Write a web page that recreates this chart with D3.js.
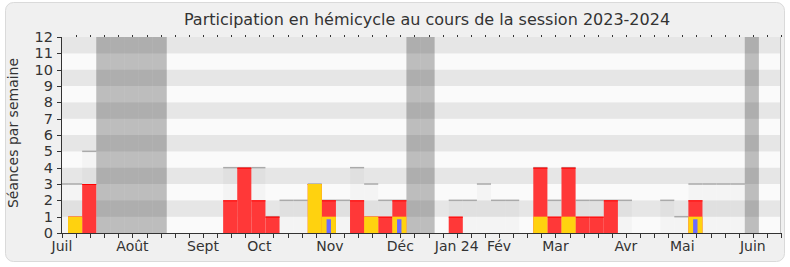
<!DOCTYPE html>
<html>
<head>
<meta charset="utf-8">
<script src="https://cdn.jsdelivr.net/npm/d3@7"></script>
<style>
  body { margin: 0; background: #fff; }
  text { font-family: "DejaVu Sans", sans-serif; fill: #333; }
</style>
</head>
<body>
<svg width="790" height="267"></svg>
<script>
var width = 790;
var height = 267;

// weekly values, week 0 = first week of July 2023
var weeks = d3.range(52);
var seances   = [3,3,5,0,0,0,0,0,0,0,0,0,4,4,4,1,2,2,3,2,2,4,3,2,2,0,0,0,2,2,3,2,2,0,4,2,4,2,2,2,2,0,0,2,1,3,3,3,3,0,0,0];
var presences = [0,1,3,0,0,0,0,0,0,0,0,0,2,4,2,1,0,0,3,2,0,2,1,1,2,0,0,0,1,0,0,0,0,0,4,1,4,1,1,2,0,0,0,0,0,2,0,0,0,0,0,0];
var interventions = [0,1,0,0,0,0,0,0,0,0,0,0,0,0,0,0,0,0,3,1,0,0,1,0,1,0,0,0,0,0,0,0,0,0,1,0,1,0,0,0,0,0,0,0,0,1,0,0,0,0,0,0];
var questions = [0,0,0,0,0,0,0,0,0,0,0,0,0,0,0,0,0,0,0,1,0,0,0,0,1,0,0,0,0,0,0,0,0,0,0,0,0,0,0,0,0,0,0,0,0,1,0,0,0,0,0,0];
var vacances = [3,4,5,6,7,25,26,49];

var monthWeeks  = [0,5,10,14,19,24,28,31,35,40,44,49];
var monthLabels = ["Juil","Août","Sept","Oct","Nov","Déc","Jan 24","Fév","Mar","Avr","Mai","Juin"];
var yTicks = d3.range(0, 13);

var title = "Participation en hémicycle au cours de la session 2023-2024";
var yTitle = "Séances par semaine";

//----------------------------------------------------------------------
// scales
//----------------------------------------------------------------------
var plotLeft = 62, plotRight = 780, plotTop = 37, plotBottom = 233;

var x = d3.scaleLinear().domain([0, 51]).range([62, 781]);
var y = d3.scaleLinear().domain([0, 12]).range([plotBottom, plotTop]);
var step = x(1) - x(0);
var barLeft = function(i) { return x(i - 0.57); };

var svg = d3.select("svg");

// frame
svg.append("rect")
    .attr("x", 5.5).attr("y", 2.5)
    .attr("width", 779).attr("height", 259)
    .attr("rx", 8)
    .attr("fill", "#f0f0f0")
    .attr("stroke", "#dadada");

svg.append("defs").append("clipPath").attr("id", "plot")
  .append("rect")
    .attr("x", plotLeft).attr("y", plotTop)
    .attr("width", plotRight - plotLeft).attr("height", plotBottom - plotTop);

var plot = svg.append("g").attr("clip-path", "url(#plot)");

// background stripes
plot.selectAll("rect.stripe")
    .data(d3.range(12))
    .enter().append("rect")
    .attr("class", "stripe")
    .attr("x", plotLeft)
    .attr("y", d => y(d + 1))
    .attr("width", plotRight - plotLeft)
    .attr("height", d => y(d) - y(d + 1))
    .attr("fill", d => d % 2 ? "#e6e6e6" : "#fafafa");

// total sessions per week
plot.selectAll("rect.total")
    .data(weeks.filter(i => seances[i] > 0))
    .enter().append("rect")
    .attr("x", barLeft)
    .attr("y", i => y(seances[i]))
    .attr("width", step)
    .attr("height", i => y(0) - y(seances[i]))
    .attr("fill", "rgba(0,0,0,0.025)");

plot.selectAll("line.total")
    .data(weeks.filter(i => seances[i] > 0))
    .enter().append("line")
    .attr("x1", barLeft)
    .attr("x2", i => barLeft(i) + step)
    .attr("y1", i => y(seances[i]))
    .attr("y2", i => y(seances[i]))
    .attr("stroke", "#aaa")
    .attr("stroke-width", 1.5);

// holidays
plot.selectAll("rect.vac")
    .data(vacances)
    .enter().append("rect")
    .attr("x", barLeft)
    .attr("y", plotTop)
    .attr("width", step)
    .attr("height", plotBottom - plotTop)
    .attr("fill", "rgba(0,0,0,0.245)");

// presence
plot.selectAll("rect.pres")
    .data(weeks.filter(i => presences[i] > 0))
    .enter().append("rect")
    .attr("x", barLeft)
    .attr("y", i => y(presences[i]))
    .attr("width", step)
    .attr("height", i => y(0) - y(presences[i]))
    .attr("fill", "#ff3838");

plot.selectAll("line.pres")
    .data(weeks.filter(i => presences[i] > 0))
    .enter().append("line")
    .attr("x1", barLeft)
    .attr("x2", i => barLeft(i) + step)
    .attr("y1", i => y(presences[i]) + 0.5)
    .attr("y2", i => y(presences[i]) + 0.5)
    .attr("stroke", "#ff0000")
    .attr("stroke-width", 1);

// interventions
plot.selectAll("rect.inter")
    .data(weeks.filter(i => interventions[i] > 0))
    .enter().append("rect")
    .attr("x", barLeft)
    .attr("y", i => y(interventions[i]))
    .attr("width", step)
    .attr("height", i => y(0) - y(interventions[i]))
    .attr("fill", "#ffd20f");

// questions
plot.selectAll("rect.quest")
    .data(weeks.filter(i => questions[i] > 0))
    .enter().append("rect")
    .attr("x", i => x(i) - 3.3)
    .attr("y", i => y(questions[i]) + 2.6)
    .attr("width", 4.4)
    .attr("height", i => y(0) - y(questions[i]) - 2.6)
    .attr("fill", "#6b6bff");

// right border
svg.append("line")
    .attr("x1", plotRight + 0.5).attr("x2", plotRight + 0.5)
    .attr("y1", plotTop).attr("y2", plotBottom)
    .attr("stroke", "#c4c4c4");

//----------------------------------------------------------------------
// axes
//----------------------------------------------------------------------
var axisColor = "#333";

// top small ticks
svg.selectAll("line.topTick")
    .data(weeks.slice(1))
    .enter().append("line")
    .attr("x1", i => Math.round(x(i)) + 0.5)
    .attr("x2", i => Math.round(x(i)) + 0.5)
    .attr("y1", plotTop - 2).attr("y2", plotTop)
    .attr("stroke", axisColor);

// bottom axis
svg.append("line")
    .attr("x1", plotLeft).attr("x2", 781)
    .attr("y1", plotBottom + 0.5).attr("y2", plotBottom + 0.5)
    .attr("stroke", axisColor);

svg.selectAll("line.xTick")
    .data(weeks)
    .enter().append("line")
    .attr("x1", i => Math.round(x(i)) + 0.5)
    .attr("x2", i => Math.round(x(i)) + 0.5)
    .attr("y1", plotBottom).attr("y2", plotBottom + 5)
    .attr("stroke", axisColor);

svg.selectAll("text.month")
    .data(monthWeeks)
    .enter().append("text")
    .attr("x", w => x(w))
    .attr("y", 251)
    .attr("text-anchor", "middle")
    .attr("font-size", 14)
    .text((w, k) => monthLabels[k]);

// left axis
svg.append("line")
    .attr("x1", plotLeft - 0.5).attr("x2", plotLeft - 0.5)
    .attr("y1", plotTop).attr("y2", plotBottom + 1)
    .attr("stroke", axisColor);

svg.selectAll("line.yTick")
    .data(yTicks)
    .enter().append("line")
    .attr("x1", plotLeft - 5).attr("x2", plotLeft)
    .attr("y1", d => Math.round(y(d)) + 0.5)
    .attr("y2", d => Math.round(y(d)) + 0.5)
    .attr("stroke", axisColor);

svg.selectAll("text.yLabel")
    .data(yTicks)
    .enter().append("text")
    .attr("x", 53)
    .attr("y", d => y(d) + 5)
    .attr("text-anchor", "end")
    .attr("font-size", 14.5)
    .text(d => d);

svg.append("text")
    .attr("transform", "translate(18," + 133 + ") rotate(-90)")
    .attr("text-anchor", "middle")
    .attr("font-size", 14)
    .text(yTitle);

svg.append("text")
    .attr("x", 427)
    .attr("y", 25)
    .attr("text-anchor", "middle")
    .attr("font-size", 16)
    .text(title);
</script>
</body>
</html>
